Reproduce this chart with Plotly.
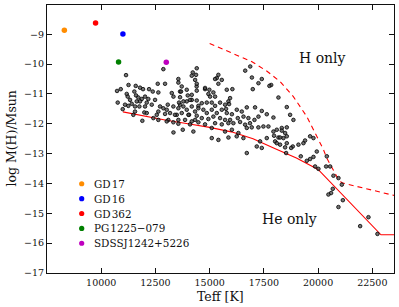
import plotly.graph_objects as go

# Sample white dwarfs (Teff [K], log M(H)/Msun)
teff = [
 11144,11259,10729,10900,11591,11790,11929,12205,12606,12943,12634,12376,11527,11176,11222,11605,11711,11868,12021,12173,
 12099,11790,11638,10761,11098,11250,10992,11407,11559,11758,12021,12330,12482,12712,12865,13021,13068,12634,12560,12634,
 12943,11988,12099,11559,11481,12403,11896,13095,11329,
 12865,13331,13760,14249,13483,13331,13635,13713,13557,14221,14405,14175,14329,14400,13944,14175,13944,14480,13635,14050,14330,
 14373,14405,15402,15328,15559,15402,13557,14788,14987,15171,15789,14941,14405,14175,13990,13681,13253,13635,13789,13589,
 14096,14405,14636,14867,15097,15250,15480,15711,15864,13326,13557,13789,13944,14175,14327,14479,14710,14867,15097,15328,
 15559,15789,13174,13400,13713,14020,14405,14636,14941,15171,15480,15711,13557,13866,14175,14480,14788,15250,15559,15864,
 13021,13326,14096,15097,15097,15403,13557,
 16640,16871,16948,17404,17250,17838,18556,18709,15250,15250,15020,14788,
 16048,16988,17755,15942,15896,15757,16251,16481,16712,17094,17404,17634,17940,18171,16025,16297,16560,16786,17066,17250,
 15942,16094,16403,16634,16860,16712,16940,17247,17478,17709,17940,18095,18325,18556,18556,18402,18171,18018,17634,17325,
 17172,17404,16325,16248,16556,15866,16712,18248,18479,15711,16025,
 18862,18325,18479,17970,18248,18094,18556,18833,19094,19324,19400,19632,19786,18525,18756,19202,19632,19786,19940,19863,
 20402,20555,20370,19479,20015,
 20707,20938,21094,20677,20600,20476,21141,20938,22322,21939,22737,
]
logm = [
 -10.37,-10.70,-10.90,-10.84,-10.73,-10.79,-10.84,-10.84,-10.66,-10.66,-10.95,-10.92,-10.92,-11.00,-11.09,-11.05,-11.12,-11.17,-11.09,-11.17,
 -11.29,-11.25,-11.25,-11.29,-11.36,-11.40,-11.51,-11.33,-11.42,-11.42,-11.42,-11.36,-11.20,-11.42,-11.48,-11.53,-11.36,-11.59,-11.70,-11.87,
 -11.67,-11.62,-11.64,-11.59,-11.70,-11.81,-11.90,-11.87,-11.20,
 -10.17,-12.29,-12.20,-12.26,-11.70,-11.09,-10.92,-10.75,-10.50,-10.28,-10.14,-10.39,-10.53,-10.75,-10.86,-11.20,-11.25,-11.40,-11.36,-11.70,-11.87,
 -10.36,-10.66,-10.36,-10.47,-10.53,-10.66,-10.62,-10.84,-10.86,-10.95,-10.86,-11.00,-10.89,-11.03,-11.05,-10.92,-10.97,-11.11,-11.25,-11.29,
 -11.20,-11.22,-11.31,-11.29,-11.29,-11.40,-11.29,-11.36,-11.25,-11.42,-11.48,-11.42,-11.53,-11.42,-11.59,-11.48,-11.53,-11.64,-11.53,-11.64,
 -11.53,-11.64,-11.64,-11.70,-11.64,-11.70,-11.73,-11.81,-11.84,-11.76,-11.81,-11.87,-11.87,-11.87,-11.92,-11.95,-12.02,-11.98,-12.02,-11.98,
 -11.92,-11.95,-12.02,-12.14,-12.48,-12.54,-12.00,
 -10.22,-10.08,-10.45,-10.50,-10.64,-10.70,-11.44,-11.70,-10.50,-11.09,-11.09,-10.80,
 -10.84,-10.84,-10.73,-11.14,-11.34,-11.50,-11.53,-11.59,-11.45,-11.45,-11.57,-11.68,-11.79,-11.12,-11.68,-11.81,-11.76,-11.81,-11.87,-11.76,
 -11.87,-11.98,-11.94,-12.03,-11.98,-12.14,-12.12,-12.12,-12.09,-12.09,-12.26,-12.20,-12.14,-12.12,-12.42,-12.48,-12.46,-12.59,-12.48,-12.59,
 -12.76,-12.81,-12.31,-12.42,-12.48,-12.46,-12.98,-12.70,-12.79,-12.26,-12.20,
 -11.87,-12.23,-12.31,-12.40,-12.46,-12.65,-12.65,-12.76,-12.70,-12.65,-12.56,-12.42,-12.48,-12.98,-12.81,-13.09,-13.18,-13.11,-12.93,-13.43,
 -13.09,-13.43,-13.43,-13.24,-13.51,
 -13.74,-13.82,-14.04,-14.18,-14.32,-14.37,-14.56,-14.79,-15.13,-15.43,-15.69,
]

# Highlighted polluted white dwarfs
star_names = ["GD\u200a17", "GD\u200a16", "GD\u200a362", "PG\u200a1225\u2212079", "SDSSJ1242+5226"]
star_teff = [8300, 11000, 9740, 10800, 13000]
star_logm = [-8.87, -8.99, -8.62, -9.93, -9.94]
star_colors = ["#ff8c00", "#0000ff", "#ff0000", "#008000", "#bf00bf"]

# Boundary curves
solid_teff = [11000, 12000, 13000, 14000, 15000, 16000, 17000, 18000, 19000, 20000, 22900, 23500]
solid_logm = [-11.60, -11.75, -11.88, -12.00, -12.12, -12.27, -12.50, -12.83, -13.15, -13.53, -15.72, -15.72]
dash_teff = [15000, 16100, 16950, 17630, 18250, 18860, 19480, 20250, 20400, 20940, 21100, 23500]
dash_logm = [-9.31, -9.64, -9.92, -10.23, -10.59, -11.09, -11.76, -12.87, -13.15, -13.87, -13.98, -14.40]

x_ticks = [10000, 12500, 15000, 17500, 20000, 22500]
y_ticks = [-17, -16, -15, -14, -13, -12, -11, -10, -9]

FONT = "DejaVu Serif"
INK = "#111111"

fig = go.Figure()
fig.add_trace(go.Scatter(x=solid_teff, y=solid_logm, mode="lines",
                         line=dict(color="#ff0000", width=1.1), showlegend=False, hoverinfo="skip"))
fig.add_trace(go.Scatter(x=dash_teff, y=dash_logm, mode="lines",
                         line=dict(color="#ff0000", width=1.1, dash="5px,4px"), showlegend=False, hoverinfo="skip"))
fig.add_trace(go.Scatter(x=teff, y=logm, mode="markers", showlegend=False,
                         marker=dict(size=3.6, color="rgba(70,70,70,0.75)",
                                     line=dict(color="#000000", width=0.8))))
for name, t, m, c in zip(star_names, star_teff, star_logm, star_colors):
    fig.add_trace(go.Scatter(x=[t], y=[m], mode="markers", name=name, showlegend=False,
                             marker=dict(size=5.5, color=c)))

# Manual legend (lower left, inside the axes)
leg_x = 0.10
leg_y0 = 0.333
leg_dy = 0.0555
for i, (name, c) in enumerate(zip(star_names, star_colors)):
    yy = leg_y0 - i * leg_dy
    fig.add_shape(type="circle", xref="paper", yref="paper",
                  x0=leg_x - 0.0075, x1=leg_x + 0.0075, y0=yy - 0.0097, y1=yy + 0.0097,
                  fillcolor=c, line=dict(width=0))
    fig.add_annotation(xref="paper", yref="paper", x=leg_x + 0.031, y=yy, text=name,
                       showarrow=False, xanchor="left", yanchor="middle",
                       font=dict(family=FONT, size=10.4, color=INK))

fig.add_annotation(x=20220, y=-9.8, text="H only", showarrow=False,
                   font=dict(family=FONT, size=14, color=INK))
fig.add_annotation(x=18700, y=-15.18, text="He only", showarrow=False,
                   font=dict(family=FONT, size=14, color=INK))

# Axis titles
fig.add_annotation(xref="paper", yref="paper", x=0.5, y=-0.086, text="Teff [K]", showarrow=False,
                   xanchor="center", yanchor="middle", font=dict(family=FONT, size=12.5, color=INK))
fig.add_annotation(xref="paper", yref="paper", x=-0.105, y=0.5, text="log M(H)/Msun", showarrow=False,
                   textangle=-90, xanchor="center", yanchor="middle",
                   font=dict(family=FONT, size=12.5, color=INK))

axis_common = dict(showline=True, linecolor=INK, linewidth=1.2, mirror="ticks",
                   ticks="inside", ticklen=5, tickwidth=1, tickcolor=INK, showgrid=False, zeroline=False,
                   tickfont=dict(family=FONT, size=9.5, color=INK))
fig.update_xaxes(range=[7500, 23500], tickvals=x_ticks, ticktext=[str(v) for v in x_ticks], **axis_common)
fig.update_yaxes(range=[-17, -8.02], tickvals=y_ticks, ticktext=["\u2212%d" % abs(v) for v in y_ticks],
                 **axis_common)

fig.update_layout(
    width=399, height=307,
    margin=dict(l=47, r=5, t=5, b=34),
    paper_bgcolor="white", plot_bgcolor="white",
    font=dict(family=FONT),
    showlegend=False,
)
fig.write_html("out.html", config={"displayModeBar": False},
               post_script="document.body.style.margin='0px';")
